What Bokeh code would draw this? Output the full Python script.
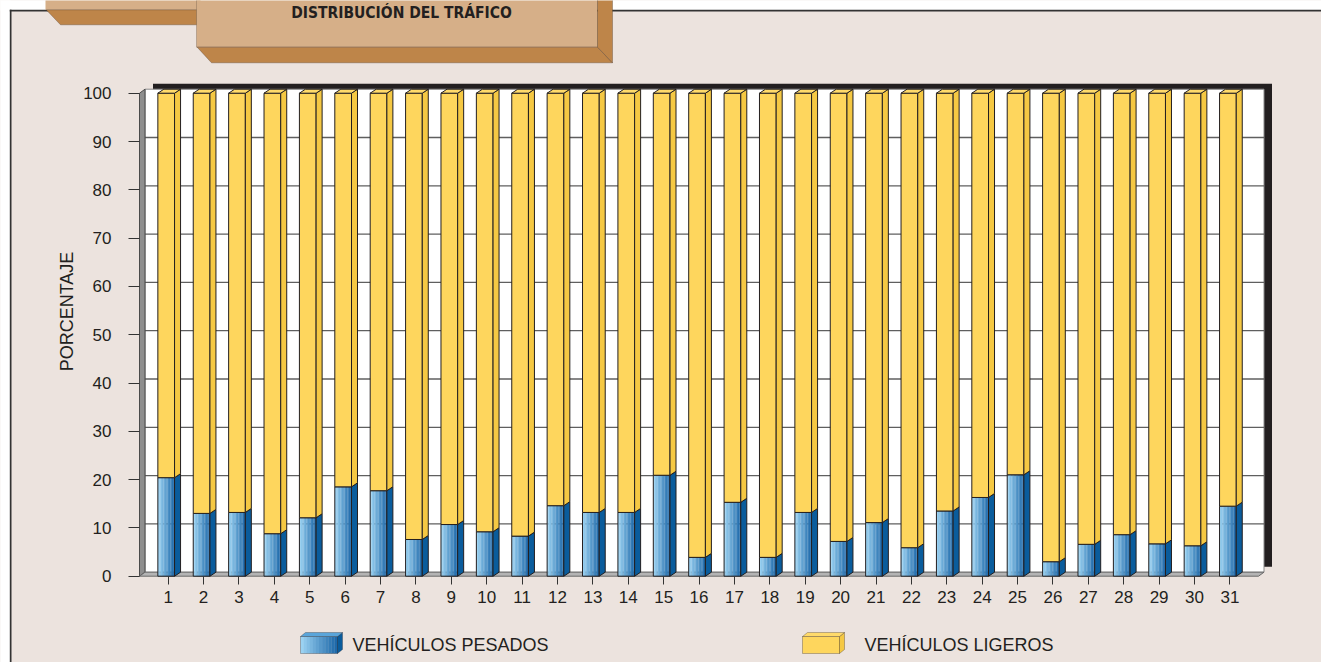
import math
import numpy as np
from bokeh.plotting import figure
from bokeh.models import ColumnDataSource, FixedTicker, Range1d, Label, PolyAnnotation
from bokeh.embed import file_html
from bokeh.resources import INLINE

# ---------------- data ----------------
days = list(range(1, 32))
day_labels = [str(d) for d in days]
pesados = [20.4, 13.0, 13.2, 8.8, 12.1, 18.5, 17.7, 7.6, 10.7, 9.2, 8.3, 14.6, 13.2, 13.2, 20.9,
           3.9, 15.3, 3.9, 13.2, 7.2, 11.1, 5.9, 13.5, 16.3, 21.0, 3.0, 6.6, 8.6, 6.7, 6.3, 14.5]
ligeros = [round(100 - v, 1) for v in pesados]
y_ticks = [0, 10, 20, 30, 40, 50, 60, 70, 80, 90, 100]
series_names = ["VEHÍCULOS PESADOS", "VEHÍCULOS LIGEROS"]
title_text = "DISTRIBUCIÓN DEL TRÁFICO"
y_title = "PORCENTAJE"

# ---------------- layout / style ----------------
W, H = 1321, 662
PXX, PXY = 35.39, 4.83
X0PX, Y0PX = 167.7, 575.7   # pixel of day 1 / value 0


def X(px):  # pixel -> data x
    return 1 + (px - X0PX) / PXX


def Y(py):  # pixel -> data y
    return (Y0PX - py) / PXY


BG = "#ECE3DE"
TAN = "#D6AF88"
BROWN = "#BE8549"
DARK = "#231F20"
FONT = "Liberation Sans"

p = figure(width=W, height=H, output_backend="svg", toolbar_location=None, title=None,
           x_range=Range1d(X(0), X(W)), y_range=Range1d(Y(H), Y(0)),
           min_border=0, min_border_left=0, min_border_right=0, min_border_top=0, min_border_bottom=0,
           background_fill_color=BG, border_fill_color=BG, outline_line_color=None)
p.xgrid.visible = False
p.ygrid.visible = False

for ax in (p.xaxis[0], p.yaxis[0]):
    ax.axis_line_color = None
    ax.major_tick_line_color = "#333333"
    ax.major_tick_in = 0
    ax.minor_tick_line_color = None
    ax.major_label_text_font = FONT
    ax.major_label_text_font_size = "17px"
    ax.major_label_text_color = DARK

WALL_L, WALL_R = X(139), X(1258)

p.xaxis[0].fixed_location = 0
p.xaxis.ticker = FixedTicker(ticks=days)
p.xaxis.major_label_overrides = {d: s for d, s in zip(days, day_labels)}
p.xaxis.major_tick_out = 8
p.xaxis.major_label_standoff = 7
p.yaxis[0].fixed_location = WALL_L
p.yaxis.ticker = FixedTicker(ticks=y_ticks)
p.yaxis.major_tick_out = 11
p.yaxis.major_label_standoff = 17


def poly(pts, fill, line=None, lw=1):
    p.add_layout(PolyAnnotation(xs=[X(a) for a, _ in pts], ys=[Y(b) for _, b in pts],
                                fill_color=fill, fill_alpha=1, line_color=line, line_width=lw,
                                level="underlay"))


# ---------------- page frame / title tab ----------------
poly([(-2, -2), (W + 2, -2), (W + 2, 10), (-2, 10)], "white")
poly([(-2, -2), (10, -2), (10, H + 2), (-2, H + 2)], "white")
poly([(9.3, 9.3), (11, 9.3), (11, H + 2), (9.3, H + 2)], "#333333")
poly([(9.3, 9.3), (W + 2, 9.3), (W + 2, 11), (9.3, 11)], "#333333")
# small tab
poly([(45, -5), (200, -5), (200, 9.3), (45, 9.3)], TAN)
poly([(45.7, 9.3), (196.7, 9.3), (196.7, 24.3), (60, 24.3)], BROWN, "#3a2c20", 1)
# main tab
poly([(196, -5), (597, -5), (597, 46.7), (196, 46.7)], TAN, "#5a4838", 1)
poly([(196.7, 46.7), (597, 46.7), (612, 62.3), (211, 62.3)], BROWN, "#3a2c20", 1)
poly([(597, -5), (612, -5), (612, 62.3), (597, 46.7)], BROWN, "#3a2c20", 1)

p.add_layout(Label(x=X(401), y=Y(12.5), text=title_text, text_align="center", text_baseline="middle",
                   text_font="'DejaVu Sans Condensed', Roboto", text_font_style="bold",
                   text_font_size="15.5px", text_color=DARK))

# y axis title
p.add_layout(Label(x=X(66), y=Y(311), text=y_title, angle=math.pi / 2, text_align="center",
                   text_baseline="middle", text_font=FONT, text_font_size="18px", text_color=DARK))

# ---------------- 3D box (walls) ----------------
DXW, DYW = 5.5 / PXX, 4 / PXY
SHX, SHY = 8 / PXX, 5.5 / PXY
top = y_ticks[-1]

p.quad(left=[WALL_L + DXW + SHX], right=[WALL_R + DXW + SHX], bottom=[DYW + SHY], top=[top + DYW + SHY],
       fill_color=DARK, line_color=None)
p.quad(left=[WALL_L + DXW], right=[WALL_R + DXW], bottom=[DYW], top=[top + DYW],
       fill_color="white", line_color="#8a8a8a", line_width=1)
gy = [t + DYW for t in y_ticks[1:-1]]
p.segment(x0=[WALL_L + DXW] * len(gy), x1=[WALL_R + DXW] * len(gy), y0=gy, y1=gy,
          line_color="#5f5f5f", line_width=1.3)
p.patch(x=[WALL_L, WALL_L, WALL_L + DXW, WALL_L + DXW], y=[0, top, top + DYW, DYW],
        fill_color="#8E8E8E", line_color="#4a4a4a", line_width=1)
p.patch(x=[WALL_L, WALL_R, WALL_R + DXW, WALL_L + DXW], y=[0, 0, DYW, DYW],
        fill_color="#B4B4B4", line_color="#6a6a6a", line_width=1)

# ---------------- bars ----------------
BW = 16.7 / PXX
BOFF = -2 / PXX
DXB, DYB = 6 / PXX, 4 / PXY
NS = 12
c0 = np.array([0x9A, 0xD2, 0xF2])
c1 = np.array([0x1E, 0x69, 0xAA])
sl, sr, st, sc = [], [], [], []
for d, v in zip(days, pesados):
    xl0 = d + BOFF - BW / 2
    for k in range(NS):
        f = k / (NS - 1)
        c = (c0 * (1 - f) + c1 * f).astype(int)
        sl.append(xl0 + BW * k / NS)
        sr.append(xl0 + BW * (k + 1) / NS + (0.004 if k < NS - 1 else 0))
        st.append(v)
        sc.append("#%02x%02x%02x" % tuple(c))
p.quad(source=ColumnDataSource(dict(l=sl, r=sr, t=st, b=[0] * len(st), c=sc)),
       left="l", right="r", top="t", bottom="b", fill_color="c", line_color=None)

xl = [d + BOFF - BW / 2 for d in days]
xr = [d + BOFF + BW / 2 for d in days]
p.quad(left=xl, right=xr, bottom=[0] * len(days), top=pesados, fill_color=None, line_color=DARK, line_width=1)
p.patches(xs=[[r, r + DXB, r + DXB, r] for r in xr],
          ys=[[0, DYB, v + DYB, v] for v in pesados],
          fill_color="#0A5C9C", line_color=DARK, line_width=1)
p.quad(left=xl, right=xr, bottom=pesados, top=[v + l for v, l in zip(pesados, ligeros)],
       fill_color="#FED65D", line_color=DARK, line_width=1)
p.patches(xs=[[r, r + DXB, r + DXB, r] for r in xr],
          ys=[[v, v + DYB, v + l + DYB, v + l] for v, l in zip(pesados, ligeros)],
          fill_color="#F5C843", line_color=DARK, line_width=1)
p.patches(xs=[[a, b, b + DXB, a + DXB] for a, b in zip(xl, xr)],
          ys=[[v + l, v + l, v + l + DYB, v + l + DYB] for v, l in zip(pesados, ligeros)],
          fill_color="#FFDA6A", line_color=DARK, line_width=1)


# ---------------- legend ----------------
def legend_box(x0, colors, side, topc):
    x1 = x0 + 37
    y0, y1 = 636, 653
    n = len(colors)
    for k, c in enumerate(colors):
        a = x0 + (x1 - x0) * k / n
        b = x0 + (x1 - x0) * (k + 1) / n + 0.3
        poly([(a, y0), (b, y0), (b, y1), (a, y1)], c)
    poly([(x0, y0), (x1, y0), (x1, y1), (x0, y1)], None, DARK, 1)
    poly([(x1, y0), (x1 + 5, y0 - 4), (x1 + 5, y1 - 4), (x1, y1)], side, DARK, 1)
    poly([(x0, y0), (x1, y0), (x1 + 5, y0 - 4), (x0 + 5, y0 - 4)], topc, DARK, 1)


blue_cols = ["#%02x%02x%02x" % tuple((c0 * (1 - k / 11) + c1 * k / 11).astype(int)) for k in range(12)]
legend_box(300, blue_cols, "#0A5C9C", "#5AA5DA")
legend_box(802, ["#FED65D"], "#F5C843", "#FFDA6A")
for xx, name in zip([352, 864], series_names):
    p.add_layout(Label(x=X(xx), y=Y(644), text=name, text_align="left", text_baseline="middle",
                       text_font=FONT, text_font_size="18px", text_color=DARK))

open("out.html", "w").write(file_html(p, INLINE))
